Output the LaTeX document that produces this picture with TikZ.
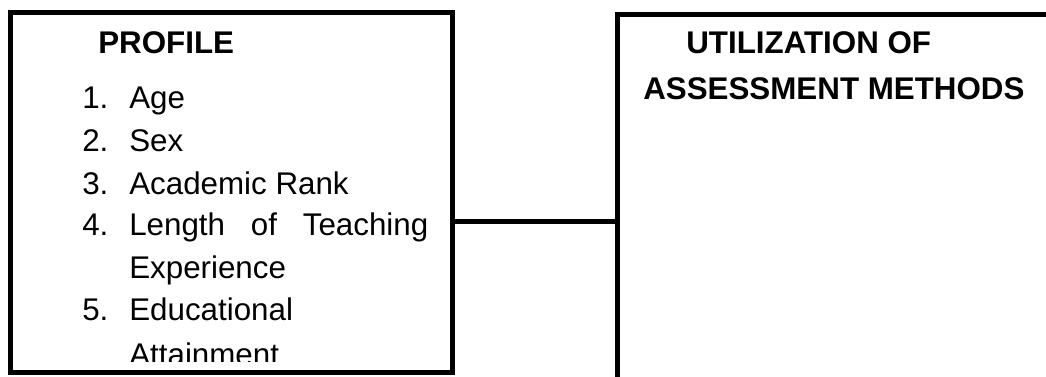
\documentclass[tikz,border=0pt]{standalone}
\usepackage{fontspec}
\setmainfont{Liberation Sans}
\usepackage{tikz}
\newcommand{\bigtext}{\fontsize{23.5}{31.5}\selectfont}

\begin{document}
\begin{tikzpicture}[x=0.75pt,y=-0.75pt,
    box/.style={draw,line width=3.75pt,inner sep=0pt},
    txt/.style={anchor=base west,inner sep=0pt,font=\bigtext},
    head/.style={txt,font=\bigtext\bfseries}]
  \useasboundingbox (0,0) rectangle (1046,376);
  \clip (0,0) rectangle (1046,376);

  \node[box,minimum width=331.5pt,minimum height=270pt] (profile) at (231,192) {};
  \node[box,minimum width=336pt,minimum height=283.5pt] (util) at (841,203) {};
  \coordinate (link) at (535,221);
  \draw[line width=3.75pt] (profile.east |- link) -- (link -| util.west);

  \node[head] (proftitle) at (98,53) {PROFILE};
  \node[head] (utiltitle) at (686,53) {UTILIZATION OF};
  \node[head] (utiltitleb) at (643,99) {ASSESSMENT METHODS};

  \foreach \n/\y in {1/108,2/151,3/194,4/235,5/320} {
    \node[txt] (num\n) at (82,\y) {\n.};
  }
  \foreach \y/\t [count=\i] in {108/Age,151/Sex,194/Academic Rank,278/Experience,320/Educational} {
    \node[txt] (item\i) at (129,\y) {\t};
  }
  \node[txt] (itemlen) at (129,235) {\makebox[224.25pt][s]{Length of Teaching}};
  \begin{scope}
    \clip (0,0) rectangle (452,361);
    \node[txt] (itematt) at (129,365) {Attainment};
  \end{scope}
\end{tikzpicture}
\end{document}
